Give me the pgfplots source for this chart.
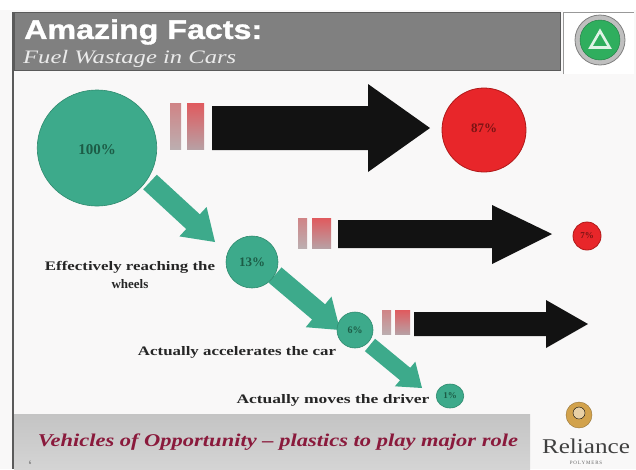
\documentclass[border=0pt]{standalone}
\usepackage{pgfplots}
\pgfplotsset{compat=1.18}
\usepackage{fontspec}
\setmainfont{Liberation Serif}
\setsansfont{Liberation Sans}
\usepackage{graphicx}
\definecolor{bg}{HTML}{F9F8F8}
\definecolor{hdr}{HTML}{808080}
\definecolor{hdrdark}{HTML}{5A5A5A}
\definecolor{tealc}{HTML}{3DAA8B}
\definecolor{tealdark}{HTML}{2E8A6E}
\definecolor{redc}{HTML}{E8262A}
\definecolor{reddark}{HTML}{B01818}
\definecolor{arrowblack}{HTML}{121212}
\definecolor{bartop}{HTML}{E05A5E}
\definecolor{barbot}{HTML}{B8A0A4}
\definecolor{bartopl}{HTML}{D08486}
\definecolor{barbotl}{HTML}{BCAEB0}
\definecolor{ftop}{HTML}{C4C4C4}
\definecolor{fbot}{HTML}{D4D4D4}
\definecolor{foottxt}{HTML}{8A1A3C}
\definecolor{txtgreen}{HTML}{1C5C46}
\definecolor{txtred}{HTML}{7A1414}
\definecolor{recyc}{HTML}{2FAE5E}
\definecolor{gold}{HTML}{D2A24C}
\begin{document}
\begin{tikzpicture}
\begin{axis}[scale only axis, width=636pt, height=469pt,
  xmin=0, xmax=636, ymin=0, ymax=469, y dir=reverse,
  hide axis, clip=false, clip mode=individual]
% background
\addplot[fill=bg, draw=none] coordinates {(0,0) (636,0) (636,469) (0,469)} -- cycle;
\addplot[fill=white, draw=none] coordinates {(0,0) (636,0) (636,10) (0,10)} -- cycle;
% header
\addplot[fill=hdr, draw=hdrdark, line width=0.8pt] coordinates {(14,12) (560,12) (560,70) (14,70)} -- cycle;
\addplot[draw=hdrdark, line width=1.2pt] coordinates {(13,12) (13,469)};
% logo box
\addplot[fill=white, draw=none] coordinates {(563,6) (634,6) (634,74) (563,74)} -- cycle;
\addplot[draw=black!40, line width=0.6pt] coordinates {(563,74) (563,12) (634,12)};
\addplot[only marks, mark=*, mark size=25, mark options={fill=black!25, draw=black!50, line width=0.8pt}] coordinates {(600,40)};
\addplot[only marks, mark=*, mark size=20, mark options={fill=recyc, draw=recyc!70!black}] coordinates {(600,40)};
\addplot[only marks, mark=triangle, mark size=11, mark options={draw=white!85!recyc, line width=2.6pt}] coordinates {(600,42)};
% footer
\addplot[draw=none, top color=ftop, bottom color=fbot] coordinates {(14,414) (530,414) (530,469) (14,469)} -- cycle;
% green diagonal arrows
\addplot[fill=tealc, draw=none] coordinates {(143.2,189.3) (186.2,229.0) (179.4,236.4) (215,242) (206.6,207.0) (199.8,214.3) (156.8,174.7)} -- cycle;
\addplot[fill=tealc, draw=none] coordinates {(268.5,282.6) (312.1,319.5) (305.7,327.2) (340,330) (331.5,296.6) (325.1,304.3) (281.5,267.4)} -- cycle;
\addplot[fill=tealc, draw=none] coordinates {(364.9,351.2) (400.0,380.2) (394.9,386.3) (422,388) (415.3,361.7) (410.2,367.8) (375.1,338.8)} -- cycle;
% black arrows
\addplot[fill=arrowblack, draw=none] coordinates {(212,106) (368,106) (368,84) (430,128) (368,172) (368,150) (212,150)} -- cycle;
\addplot[fill=arrowblack, draw=none] coordinates {(338,220) (492,220) (492,205) (552,234) (492,264) (492,248) (338,248)} -- cycle;
\addplot[fill=arrowblack, draw=none] coordinates {(414,312) (546,312) (546,300) (588,324) (546,348) (546,336) (414,336)} -- cycle;
% gradient bars
\addplot[draw=none, top color=bartopl, bottom color=barbotl] coordinates {(170,103) (181,103) (181,149) (170,149)} -- cycle;
\addplot[draw=none, top color=bartop, bottom color=barbot] coordinates {(187,103) (204,103) (204,149) (187,149)} -- cycle;
\addplot[draw=none, top color=bartopl, bottom color=barbotl] coordinates {(298,218) (307,218) (307,248) (298,248)} -- cycle;
\addplot[draw=none, top color=bartop, bottom color=barbot] coordinates {(312,218) (331,218) (331,248) (312,248)} -- cycle;
\addplot[draw=none, top color=bartopl, bottom color=barbotl] coordinates {(382,310) (391,310) (391,334) (382,334)} -- cycle;
\addplot[draw=none, top color=bartop, bottom color=barbot] coordinates {(395,310) (410,310) (410,334) (395,334)} -- cycle;
% circles
\addplot[only marks, mark=*, mark size=58, mark options={fill=tealc, draw=tealdark, line width=0.6pt, xscale=1.03}] coordinates {(97,148)};
\addplot[only marks, mark=*, mark size=26, mark options={fill=tealc, draw=tealdark, line width=0.6pt}] coordinates {(252,262)};
\addplot[only marks, mark=*, mark size=18, mark options={fill=tealc, draw=tealdark, line width=0.6pt}] coordinates {(355,330)};
\addplot[only marks, mark=*, mark size=12, mark options={fill=tealc, draw=tealdark, line width=0.6pt, xscale=1.15}] coordinates {(450,396)};
\addplot[only marks, mark=*, mark size=42, mark options={fill=redc, draw=reddark, line width=0.8pt}] coordinates {(484,130)};
\addplot[only marks, mark=*, mark size=14, mark options={fill=redc, draw=reddark, line width=0.8pt}] coordinates {(587,236)};
% Reliance logo
\addplot[only marks, mark=*, mark size=13, mark options={fill=gold, draw=gold!70!black}] coordinates {(579,415)};
\addplot[only marks, mark=*, mark size=6, mark options={fill=gold!50!white, draw=none}] coordinates {(579,413)};
% texts
\node[inner sep=0, anchor=west, text=white] at (axis cs:24,32) {\resizebox{238pt}{\height}{\sffamily\bfseries\addfontfeature{FakeBold=1.2}\fontsize{27}{30}\selectfont Amazing Facts:}};
\node[inner sep=0, anchor=west, text=white!92!black] at (axis cs:23,59) {\resizebox{213pt}{\height}{\itshape\fontsize{19}{22}\selectfont Fuel Wastage in Cars}};
\node[inner sep=0, text=txtgreen] at (axis cs:97,150) {\bfseries\fontsize{15}{17}\selectfont 100\%};
\node[inner sep=0, text=txtred] at (axis cs:484,128) {\bfseries\fontsize{13}{15}\selectfont 87\%};
\node[inner sep=0, text=txtgreen] at (axis cs:252,262) {\bfseries\fontsize{13}{15}\selectfont 13\%};
\node[inner sep=0, text=txtred] at (axis cs:587,236) {\bfseries\fontsize{9}{10}\selectfont 7\%};
\node[inner sep=0, text=txtgreen] at (axis cs:355,330) {\bfseries\fontsize{10}{12}\selectfont 6\%};
\node[inner sep=0, text=txtgreen] at (axis cs:450,396) {\bfseries\fontsize{9}{10}\selectfont 1\%};
\node[inner sep=0, text=black!85] at (axis cs:130,267) {\resizebox{170pt}{\height}{\bfseries\fontsize{13}{15}\selectfont Effectively reaching the}};
\node[inner sep=0, text=black!85] at (axis cs:130,284) {\bfseries\fontsize{13}{15}\selectfont wheels};
\node[inner sep=0, text=black!85] at (axis cs:237,352) {\resizebox{198pt}{\height}{\bfseries\fontsize{13}{15}\selectfont Actually accelerates the car}};
\node[inner sep=0, text=black!85] at (axis cs:333,400) {\resizebox{193pt}{\height}{\bfseries\fontsize{13}{15}\selectfont Actually moves the driver}};
\node[inner sep=0, text=foottxt] at (axis cs:278,442) {\resizebox{480pt}{\height}{\bfseries\itshape\fontsize{18}{20}\selectfont Vehicles of Opportunity -- plastics to play major role}};
\node[inner sep=0, text=black!75] at (axis cs:586,446) {\resizebox{88pt}{\height}{\fontsize{21}{23}\selectfont Reliance}};
\node[inner sep=0, text=black!60] at (axis cs:586,463) {\fontsize{5}{6}\selectfont P\,O\,L\,Y\,M\,E\,R\,S};
\node[inner sep=0, text=black!70] at (axis cs:30,463) {\fontsize{5}{6}\selectfont 6};
\end{axis}
\end{tikzpicture}
\end{document}
